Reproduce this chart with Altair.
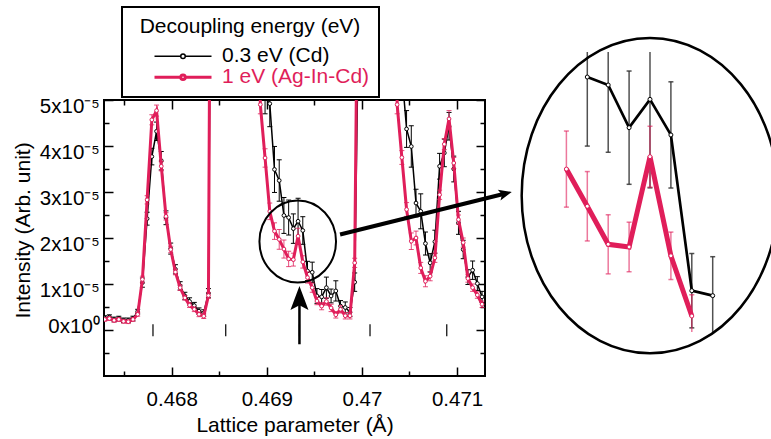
import altair as alt
import pandas as pd

FONT = "Liberation Sans, Arial, Helvetica, sans-serif"
RED = "#e01e5a"

# ---------------- data ----------------
x_vals = [
    0.4672950, 0.4673446, 0.4673942, 0.4674438, 0.4674934, 0.4675430, 0.4675926, 0.4676422,
    0.4676918, 0.4677414, 0.4677910, 0.4678406, 0.4678902, 0.4679398, 0.4679894, 0.4680390,
    0.4680886, 0.4681382, 0.4681878, 0.4682374, 0.4682870, 0.4683366, 0.4683862, 0.4684358,
    0.4684854, 0.4685350, 0.4685846, 0.4686342, 0.4686838, 0.4687334, 0.4687830, 0.4688326,
    0.4688822, 0.4689318, 0.4689814, 0.4690310, 0.4690806, 0.4691302, 0.4691798, 0.4692294,
    0.4692790, 0.4693286, 0.4693782, 0.4694278, 0.4694774, 0.4695270, 0.4695766, 0.4696262,
    0.4696758, 0.4697254, 0.4697750, 0.4698246, 0.4698742, 0.4699238, 0.4699734, 0.4700230,
    0.4700726, 0.4701222, 0.4701718, 0.4702214, 0.4702710, 0.4703206, 0.4703702, 0.4704198,
    0.4704694, 0.4705190, 0.4705686, 0.4706182, 0.4706678, 0.4707174, 0.4707670, 0.4708166,
    0.4708662, 0.4709158, 0.4709654, 0.4710150, 0.4710646, 0.4711142, 0.4711638, 0.4712134,
    0.4712630,
]
# intensities in units of 1e-5
black_vals = [
    0.26, 0.28, 0.23, 0.25, 0.21, 0.21, 0.25, 0.40,
    1.03, 2.42, 3.77, 4.32, 3.68, 2.44, 1.77, 1.32, 0.96, 0.74, 0.62, 0.53, 0.41, 0.37, 0.80,
    18, 35, 50, 60, 62, 55, 42, 30, 20, 13, 9.0, 5.2,
    4.92, 3.49, 3.25, 2.49, 2.445, 2.204, 2.364, 2.163, 1.283, 1.255, 0.74, 0.72, 0.92, 0.74,
    0.85, 0.52, 0.49, 0.39, 1.04,
    8, 22, 38, 48, 50, 42, 30, 20, 11, 5.6,
    4.37, 3.99, 2.76, 2.58, 1.88, 1.46, 1.92, 3.56, 3.85, 4.43, 3.5, 2.33, 1.75, 1.15, 1.30,
    1.01, 0.72,
]
black_errs = [
    0.05, 0.05, 0.05, 0.05, 0.05, 0.05, 0.05, 0.05,
    0.10, 0.14, 0.18, 0.20, 0.20, 0.15, 0.12, 0.10, 0.09, 0.08, 0.08, 0.07, 0.07, 0.07, 0.10,
    0.6, 0.6, 0.6, 0.6, 0.6, 0.6, 0.6, 0.6, 0.6, 0.6, 0.5, 0.5,
    0.5, 0.5, 0.45, 0.39, 0.38, 0.32, 0.50, 0.30, 0.21, 0.22, 0.16, 0.16, 0.23, 0.15, 0.22,
    0.12, 0.12, 0.10, 0.20,
    0.5, 0.5, 0.5, 0.5, 0.5, 0.5, 0.5, 0.5, 0.5, 0.5,
    0.40, 0.45, 0.30, 0.38, 0.25, 0.20, 0.25, 0.28, 0.30, 0.30, 0.28, 0.25, 0.20, 0.16, 0.20,
    0.15, 0.12,
]
red_vals = [
    0.23, 0.25, 0.21, 0.23, 0.19, 0.18, 0.23, 0.34,
    1.10, 2.83, 4.57, 4.77, 3.56, 2.47, 1.75, 1.26, 0.92, 0.70, 0.54, 0.45, 0.34, 0.30, 0.75,
    22, 40, 55, 62, 60, 50, 38, 27, 18, 12,
    4.90, 3.74, 2.58, 2.15, 1.97, 1.76, 1.545, 1.53, 2.04, 1.48, 1.14, 0.92, 0.63, 0.52, 0.62,
    0.48, 0.33, 0.45, 0.31, 0.31, 1.46,
    12, 30, 45, 52, 48, 38, 27, 18,
    4.90, 3.75, 2.62, 1.93, 2.00, 1.35, 1.06, 1.17, 1.57, 2.94, 4.04, 4.59, 3.63, 2.40, 1.90,
    1.12, 0.92, 0.76, 0.56,
]
red_errs = [
    0.04, 0.04, 0.04, 0.04, 0.04, 0.04, 0.04, 0.04,
    0.07, 0.09, 0.11, 0.12, 0.10, 0.08, 0.07, 0.06, 0.06, 0.05, 0.05, 0.05, 0.05, 0.05, 0.06,
    0.4, 0.4, 0.4, 0.4, 0.4, 0.4, 0.4, 0.4, 0.4, 0.4,
    0.20, 0.20, 0.18, 0.18, 0.215, 0.196, 0.167, 0.14, 0.172, 0.134, 0.12, 0.10, 0.08, 0.08,
    0.08, 0.08, 0.07, 0.08, 0.07, 0.07, 0.10,
    0.4, 0.4, 0.4, 0.4, 0.4, 0.4, 0.4, 0.4,
    0.20, 0.15, 0.15, 0.18, 0.15, 0.12, 0.12, 0.10, 0.10, 0.10, 0.12, 0.18, 0.12, 0.10, 0.10,
    0.08, 0.08, 0.07, 0.07,
]
assert all(len(a) == len(x_vals) for a in (black_vals, black_errs, red_vals, red_errs))

series_names = ["0.3 eV (Cd)", "1 eV (Ag-In-Cd)"]
series_colors = ["#000000", RED]

# Bragg peak position markers
bragg_x = [0.467803, 0.468568, 0.469343, 0.470085, 0.470892]
bragg_y = [-0.137e-5, 0.124e-5]

x_major = [0.468, 0.469, 0.470, 0.471]
x_minor = [0.4675, 0.4685, 0.4695, 0.4705]
y_major = [0.0, 1e-5, 2e-5, 3e-5, 4e-5, 5e-5]
y_minor = [-0.5e-5, 0.5e-5, 1.5e-5, 2.5e-5, 3.5e-5, 4.5e-5]

# annotations (data units of the main axes)
zoom_center = [0.469325, 1.924e-5]
connector = [0.469770, 2.076e-5, 0.471509, 2.967e-5]
up_arrow = [0.469343, -0.31e-5, 0.62e-5, 0.694e-5]
# inset ellipse centre (inset data units)
inset_center = [0.4693286, 1.82e-5]

# ---------------- tables ----------------
UNIT = 1e-5
rows = []
for name, vals, errs in ((series_names[0], black_vals, black_errs),
                         (series_names[1], red_vals, red_errs)):
    for xv, v, e in zip(x_vals, vals, errs):
        rows.append({"x": xv, "y": v * UNIT, "lo": (v - e) * UNIT, "hi": (v + e) * UNIT,
                     "series": name})
df = pd.DataFrame(rows)

# ---------------- scales / axes ----------------
XDOM = [0.467288, 0.471294]
YDOM = [-1e-5, 5e-5]
xs = alt.Scale(domain=XDOM, nice=False, zero=False)
ys = alt.Scale(domain=YDOM, nice=False, zero=False)

tick_common = dict(domain=False, grid=False, tickColor="black", tickWidth=1.5)
x_axis_main = alt.Axis(
    orient="bottom", values=x_major, format=".3~f", tickSize=9, offset=-9,
    labelFont=FONT, labelFontSize=20.5, labelColor="black", labelPadding=13.5,
    labelFlush=False, labelOverlap=False,
    title="Lattice parameter (Å)", titleFont=FONT, titleFontSize=21,
    titleFontWeight="normal", titleColor="black", titleY=47.7, titleBaseline="top",
    **tick_common)
y_axis_main = alt.Axis(
    orient="left", values=y_major,
    labelExpr="datum.value == 0 ? '0x10⁰' : format(datum.value * 100000, '.0f') + 'x10⁻⁵'",
    tickSize=9, offset=-9, labelFont=FONT, labelFontSize=20.5, labelColor="black",
    labelPadding=4.7,
    labelOffset={"condition": {"test": "datum.value == 0", "value": -3.5}, "value": 6.5},
    labelFlush=False, labelOverlap=False,
    title="Intensity (Arb. unit)", titleFont=FONT, titleFontSize=21, titleFontWeight="normal",
    titleColor="black", titleX=-89.6, titleY=130, titleAngle=270, titleAlign="center",
    titleBaseline="middle", **tick_common)


def MX(field="x"):
    return alt.X(f"{field}:Q", scale=xs, axis=x_axis_main)


def MY(field="y"):
    return alt.Y(f"{field}:Q", scale=ys, axis=y_axis_main)


SYM = "M-1,0H-0.08M0.08,0H1M0.08,0A0.08,0.08,0,1,1,-0.08,0A0.08,0.08,0,1,1,0.08,0Z"
legend = alt.Legend(
    orient="none", legendX=18, legendY=-93, direction="vertical",
    title="Decoupling energy (eV)", titleFont=FONT, titleFontSize=21, titleLimit=500,
    titleFontWeight="normal", titleColor="black", titleAnchor="middle", titlePadding=8.7,
    labelFont=FONT, labelFontSize=21, labelLimit=500,
    labelColor={"expr": f"datum.value == '{series_names[1]}' ? '{RED}' : 'black'"},
    symbolType=SYM, symbolSize=3249, symbolFillColor="white",
    symbolOffset=22, labelOffset=9, clipHeight=21, rowPadding=-2.4,
    padding=9, strokeColor="black", fillColor="white", cornerRadius=0)
color_enc = alt.Color("series:N", scale=alt.Scale(domain=series_names, range=series_colors),
                      legend=legend)
sw_enc = alt.StrokeWidth("series:N",
                         scale=alt.Scale(type="ordinal", domain=series_names, range=[1.5, 3.0]),
                         legend=legend)


def main_series(name, color, bar_opacity):
    base = alt.Chart(df).transform_filter(alt.datum.series == name)
    bars = base.mark_rule(color=color, strokeWidth=1, opacity=bar_opacity, clip=True).encode(
        x=MX(), y=MY("lo"), y2="hi:Q")
    cap_lo = base.mark_tick(color=color, thickness=1, size=5, orient="horizontal",
                            opacity=bar_opacity, clip=True).encode(x=MX(), y=MY("lo"))
    cap_hi = base.mark_tick(color=color, thickness=1, size=5, orient="horizontal",
                            opacity=bar_opacity, clip=True).encode(x=MX(), y=MY("hi"))
    line = base.mark_line(clip=True).encode(x=MX(), y=MY("y"), color=color_enc,
                                            strokeWidth=sw_enc)
    pts = base.mark_point(shape="circle", filled=True, fill="white", stroke=color,
                          strokeWidth=1, size=14, opacity=1, clip=True).encode(x=MX(), y=MY("y"))
    return [bars, cap_lo, cap_hi, line, pts]


bragg_df = pd.DataFrame({"x": bragg_x, "y": [bragg_y[0]] * len(bragg_x),
                         "y2": [bragg_y[1]] * len(bragg_x)})
bragg = alt.Chart(bragg_df).mark_rule(color="black", strokeWidth=1.2).encode(
    x=MX(), y=MY("y"), y2="y2:Q")

SMALL_ELL = "M-0.934,0A0.934,1,0,1,1,0.934,0A0.934,1,0,1,1,-0.934,0Z"
BIG_ELL = "M-0.8136,0A0.8136,1,0,1,1,0.8136,0A0.8136,1,0,1,1,-0.8136,0Z"
ARROW_R = "M1,0L-1,-0.85L-0.55,0L-1,0.85Z"
ARROW_U = "M0,-1L0.75,1L0,0.6L-0.75,1Z"

zoom_ring = alt.Chart(pd.DataFrame({"x": [zoom_center[0]], "y": [zoom_center[1]]})).mark_point(
    shape=SMALL_ELL, size=6724, color="black", strokeWidth=2, filled=False, opacity=1).encode(
    x=MX(), y=MY())
conn = alt.Chart(pd.DataFrame({"x": [connector[0]], "y": [connector[1]],
                               "x2": [connector[2]], "y2": [connector[3]]})).mark_rule(
    color="black", strokeWidth=4).encode(x=MX(), y=MY(), x2="x2:Q", y2="y2:Q")
conn_head = alt.Chart(pd.DataFrame({"x": [connector[2]], "y": [connector[3]]})).mark_point(
    shape=ARROW_R, size=169, angle=346, filled=True, color="black", opacity=1).encode(
    x=MX(), y=MY())
up_shaft = alt.Chart(pd.DataFrame({"x": [up_arrow[0]], "y": [up_arrow[1]],
                                   "y2": [up_arrow[2]]})).mark_rule(
    color="black", strokeWidth=2.5).encode(x=MX(), y=MY(), y2="y2:Q")
up_head = alt.Chart(pd.DataFrame({"x": [up_arrow[0]], "y": [up_arrow[3]]})).mark_point(
    shape=ARROW_U, size=576, filled=True, color="black", opacity=1).encode(x=MX(), y=MY())

main_group = alt.layer(
    bragg,
    *main_series(series_names[0], "#000000", 1.0),
    *main_series(series_names[1], RED, 0.8),
    zoom_ring, conn, conn_head, up_shaft, up_head,
)

# ---------------- mirrored / minor ticks ----------------
dummy = pd.DataFrame({"x": XDOM, "y": YDOM})


def tick_axis(orient, values, size):
    return alt.Axis(orient=orient, values=values, tickSize=size, offset=-size, labels=False,
                    title=None, **tick_common)


def ticks_only(xaxis, yaxis):
    return alt.Chart(dummy).mark_point(opacity=0).encode(
        x=alt.X("x:Q", scale=xs, axis=xaxis), y=alt.Y("y:Q", scale=ys, axis=yaxis))


minor_bl = ticks_only(tick_axis("bottom", x_minor, 5), tick_axis("left", y_minor, 5))
major_tr = ticks_only(tick_axis("top", x_major, 9), tick_axis("right", y_major, 9))
minor_tr = ticks_only(tick_axis("top", x_minor, 5), tick_axis("right", y_minor, 5))

# ---------------- inset (magnified region) ----------------
IXDOM = [0.4691, 0.4695]
IYDOM = [1.0496e-5, 2.6315e-5]
ixs = alt.Scale(domain=IXDOM, range=[449.67, 618.22], nice=False, zero=False)
iys = alt.Scale(domain=IYDOM, range=[232, -48], nice=False, zero=False, clamp=True)


def IX():
    return alt.X("x:Q", scale=ixs, axis=None)


def IY(field):
    return alt.Y(f"{field}:Q", scale=iys, axis=None)


def inset_series(name, lo_x, hi_x, line_color, line_w, bar_color, bar_op):
    base = alt.Chart(df).transform_filter(
        f"datum.series === '{name}' && datum.x >= {lo_x} && datum.x <= {hi_x}")
    bars = base.mark_rule(color=bar_color, strokeWidth=1.5, opacity=bar_op).encode(
        x=IX(), y=IY("lo"), y2="hi:Q")
    cap_lo = base.transform_filter(f"datum.lo >= {IYDOM[0]}").mark_tick(
        color=bar_color, thickness=1.5, size=5, orient="horizontal", opacity=bar_op).encode(
        x=IX(), y=IY("lo"))
    cap_hi = base.transform_filter(f"datum.hi <= {IYDOM[1]}").mark_tick(
        color=bar_color, thickness=1.5, size=5, orient="horizontal", opacity=bar_op).encode(
        x=IX(), y=IY("hi"))
    line = base.mark_line(color=line_color, strokeWidth=line_w).encode(x=IX(), y=IY("y"))
    pts = base.mark_point(shape="circle", filled=True, fill="white", stroke=line_color,
                          strokeWidth=1, size=16, opacity=1).encode(x=IX(), y=IY("y"))
    return [bars, cap_lo, cap_hi, line, pts]


big_ring = alt.Chart(pd.DataFrame({"x": [inset_center[0]], "y": [inset_center[1]]})).mark_point(
    shape=BIG_ELL, size=99477, color="black", strokeWidth=2.5, filled=False, opacity=1).encode(
    x=IX(), y=IY("y"))

inset_group = alt.layer(
    *inset_series(series_names[0], 0.46917, 0.46948, "#000000", 2.7, "#333333", 0.85),
    *inset_series(series_names[1], 0.46912, 0.46943, RED, 5, RED, 0.6),
    big_ring,
)

chart = (
    alt.layer(main_group, minor_bl, major_tr, minor_tr, inset_group)
    .resolve_scale(x="independent", y="independent")
    .properties(width=381, height=276,
                padding={"left": 104, "top": 100, "right": 286, "bottom": 63},
                autosize=alt.AutoSizeParams(type="none"), background="white")
    .configure(font=FONT)
    .configure_view(stroke="black", strokeWidth=2)
    .configure_legend(strokeWidth=2)
)

chart.save("out.html", embed_options={"renderer": "svg", "actions": False})
